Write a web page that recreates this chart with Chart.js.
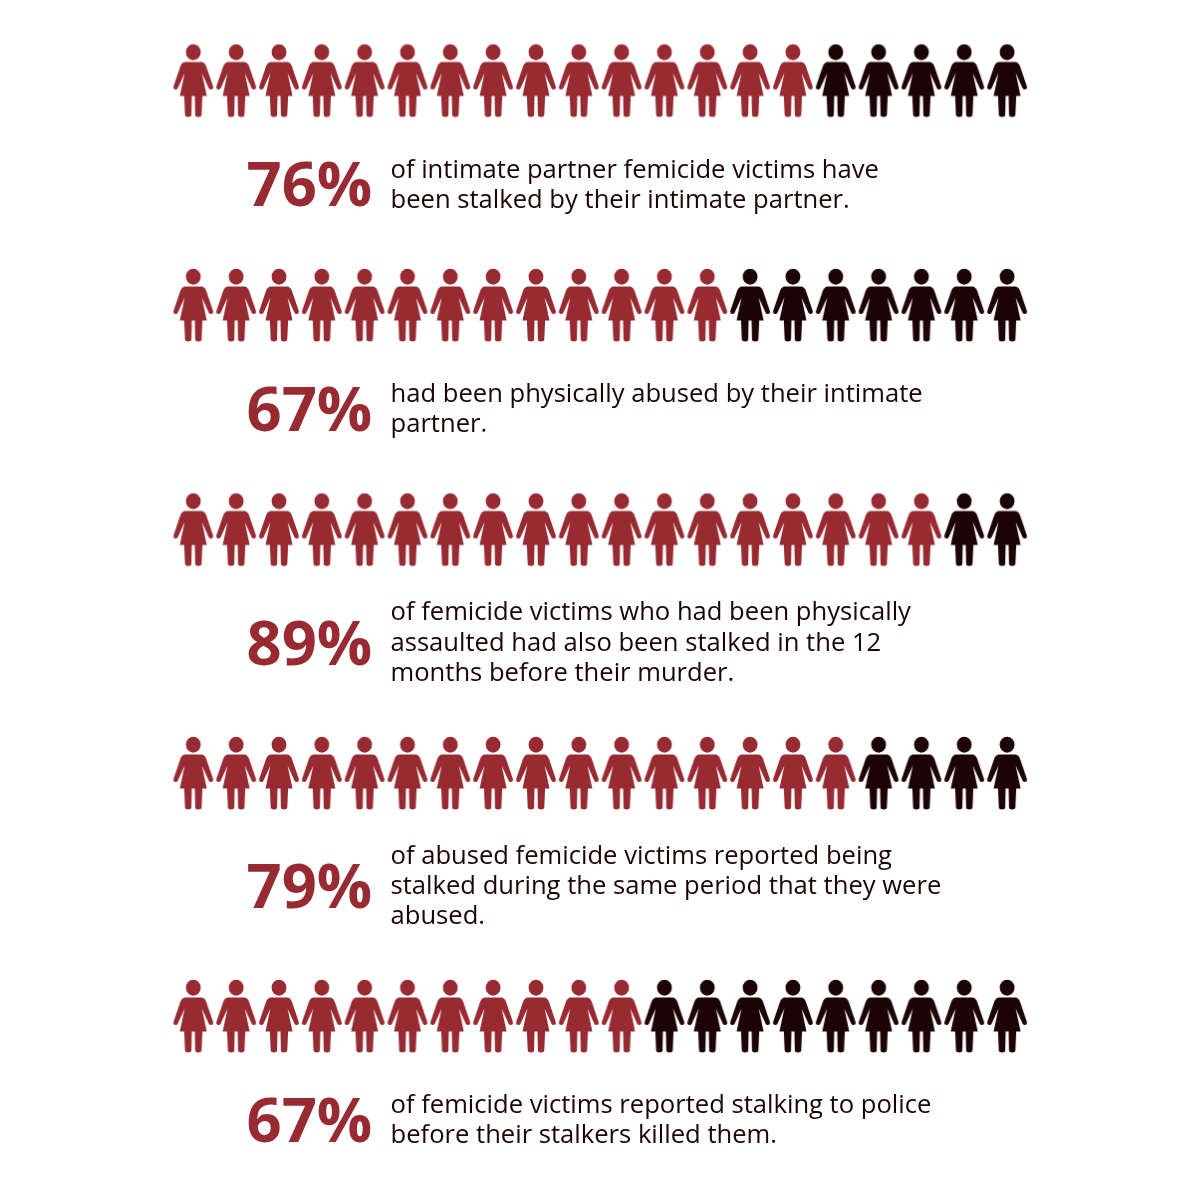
<!DOCTYPE html>
<html>
<head>
<meta charset="utf-8">
<title>Femicide and stalking</title>
<script src="https://cdn.jsdelivr.net/npm/chart.js@4"></script>
<style>
  html, body { margin: 0; padding: 0; background: #fff; }
  canvas { display: block; }
</style>
</head>
<body>
<canvas id="myChart" width="1200" height="1200"></canvas>
<script>
// data
const percentLabels = ['76%', '67%', '89%', '79%', '67%']
const filledFigures = [15, 13, 18, 16, 11]
const figuresPerRow = 20
const captions = [
    ['of intimate partner femicide victims have', 'been stalked by their intimate partner.'],
    ['had been physically abused by their intimate', 'partner.'],
    ['of femicide victims who had been physically', 'assaulted had also been stalked in the 12', 'months before their murder.'],
    ['of abused femicide victims reported being', 'stalked during the same period that they were', 'abused.'],
    ['of femicide victims reported stalking to police', 'before their stalkers killed them.']
]

// layout, in page pixels
const rowCenters = [80.5, 305, 529.5, 773, 1016]
const percentBaselines = [206, 431, 665, 908, 1142]
const captionBaselines = [178, 402, 620.4, 864, 1113]
const lineHeight = 30.2
const firstX = 193.3
const stepX = 42.83

const RED = '#982a32'
const DARK = '#1d0305'

// draws one woman figure onto a small canvas, used as the point style
function makeFigure(color) {
    const c = document.createElement('canvas')
    c.width = 44
    c.height = 76
    const ctx = c.getContext('2d')
    ctx.translate(22, 1.5)
    ctx.fillStyle = color
    ctx.beginPath()
    ctx.ellipse(0, 8.2, 7.4, 8, 0, 0, Math.PI * 2)
    ctx.fill()
    for (const side of [-1, 1]) {
        ctx.save()
        ctx.scale(side, 1)
        ctx.beginPath()
        ctx.moveTo(0, 18)
        ctx.lineTo(8, 18)
        ctx.quadraticCurveTo(11.4, 18.2, 13, 22.5)
        ctx.lineTo(19.8, 42.5)
        ctx.quadraticCurveTo(20.3, 45.4, 17.6, 45.6)
        ctx.quadraticCurveTo(16.2, 45.6, 15.5, 44.3)
        ctx.lineTo(8.6, 29)
        ctx.lineTo(13.5, 52)
        ctx.lineTo(9.1, 52)
        ctx.lineTo(8.3, 70.8)
        ctx.quadraticCurveTo(8.1, 73, 5, 73)
        ctx.quadraticCurveTo(2, 73, 1.9, 70.8)
        ctx.lineTo(1.5, 52)
        ctx.lineTo(0, 52)
        ctx.closePath()
        ctx.fill()
        ctx.restore()
    }
    return c
}

const redFigure = makeFigure(RED)
const darkFigure = makeFigure(DARK)

// one dataset for the filled figures, one for the rest
let filledPoints = []
let otherPoints = []
filledFigures.forEach((count, row) => {
    for (let n = 1; n <= figuresPerRow; n++) {
        const point = { x: n, y: rowCenters[row] }
        if (n <= count) filledPoints.push(point)
        else otherPoints.push(point)
    }
})

// percent figures and captions are drawn after the points
const textPlugin = {
    id: 'rowText',
    afterDatasetsDraw(chart) {
        const ctx = chart.ctx
        ctx.save()
        ctx.textBaseline = 'alphabetic'
        ctx.textAlign = 'left'
        percentLabels.forEach((label, row) => {
            ctx.fillStyle = RED
            ctx.font = 'bold 61.5px "Open Sans"'
            ctx.fillText(label, 246.5, percentBaselines[row])
            ctx.fillStyle = DARK
            ctx.font = '25.6px "Open Sans"'
            captions[row].forEach((line, i) => {
                ctx.fillText(line, 390.5, captionBaselines[row] + i * lineHeight)
            })
        })
        ctx.restore()
    }
}

const config = {
    type: 'scatter',
    data: {
        datasets: [
            { label: 'Yes', data: filledPoints, pointStyle: redFigure, pointRadius: 20 },
            { label: 'No', data: otherPoints, pointStyle: darkFigure, pointRadius: 20 }
        ]
    },
    options: {
        responsive: false,
        animation: false,
        layout: { padding: 0, autoPadding: false },
        plugins: { legend: { display: false }, tooltip: { enabled: false } },
        scales: {
            x: { display: false, min: 1 - firstX / stepX, max: 1 + (1200 - firstX) / stepX },
            y: { display: false, min: 0, max: 1200, reverse: true }
        }
    },
    plugins: [textPlugin]
}

const myChart = new Chart(document.getElementById('myChart'), config)
</script>
</body>
</html>
